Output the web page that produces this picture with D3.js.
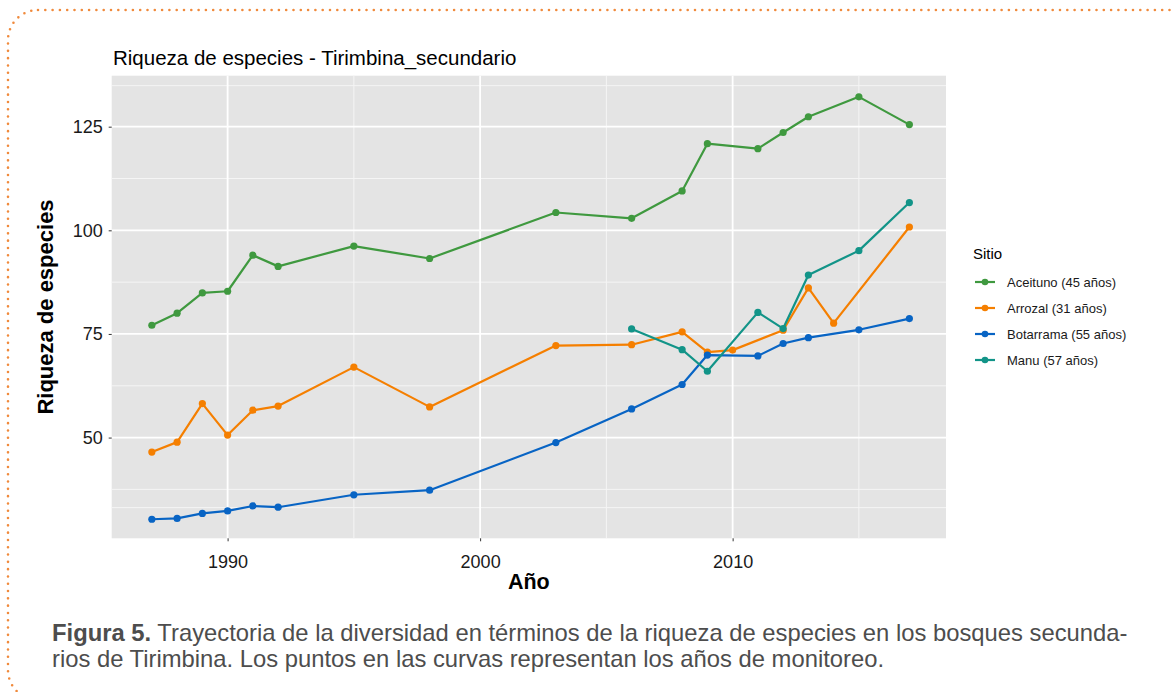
<!DOCTYPE html>
<html><head><meta charset="utf-8">
<script src="https://cdn.jsdelivr.net/npm/d3@7"></script>
<style>body{margin:0;background:#fff;} svg{display:block;font-family:"Liberation Sans",Arial,sans-serif;}</style>
</head><body>
<svg id="c" width="1172" height="692"></svg>
<script>
const sites = ["Aceituno (45 años)","Arrozal (31 años)","Botarrama (55 años)","Manu (57 años)"];
const colors = ["#3f993f","#f57f00","#0864c4","#129488"];
const aceitunoYears = [1987,1988,1989,1990,1991,1992,1995,1998,2003,2006,2008,2009,2011,2012,2013,2015,2017];
const aceitunoVals  = [77.1,80.0,84.9,85.3,94.0,91.3,96.2,93.2,104.3,102.9,109.5,120.9,119.7,123.6,127.4,132.2,125.5];
const arrozalYears = [1987,1988,1989,1990,1991,1992,1995,1998,2003,2006,2008,2009,2010,2012,2013,2014,2017];
const arrozalVals  = [46.5,48.9,58.2,50.6,56.6,57.6,67.0,57.4,72.2,72.4,75.5,70.6,71.1,75.9,86.1,77.6,100.8];
const botarramaYears = [1987,1988,1989,1990,1991,1992,1995,1998,2003,2006,2008,2009,2011,2012,2013,2015,2017];
const botarramaVals  = [30.3,30.5,31.7,32.3,33.5,33.2,36.2,37.3,48.8,56.9,62.8,69.9,69.7,72.7,74.1,76.0,78.7];
const manuYears = [2006,2008,2009,2011,2012,2013,2015,2017];
const manuVals  = [76.2,71.2,66.0,80.2,76.3,89.2,95.1,106.7];
const yMajor = [50,75,100,125];
const yMinor = [33.1,37.5,62.5,87.5,112.5,134.9];
const xMajor = [1990,2000,2010];
const xMinor = [1995,2005,2015];

const series = [
  {name:sites[0], color:colors[0], years:aceitunoYears, vals:aceitunoVals},
  {name:sites[1], color:colors[1], years:arrozalYears, vals:arrozalVals},
  {name:sites[2], color:colors[2], years:botarramaYears, vals:botarramaVals},
  {name:sites[3], color:colors[3], years:manuYears, vals:manuVals}
];

const svg = d3.select("#c");
// dotted border
svg.append("rect").attr("x",8).attr("y",10).attr("width",1230).attr("height",690).attr("rx",30)
  .attr("fill","none").attr("stroke","#f08a3c").attr("stroke-width",2.6)
  .attr("stroke-dasharray","0 7.3").attr("stroke-linecap","round");

const L=111.7, R=946, T=75.7, B=538.3;
const x = d3.scaleLinear().domain([1985.41,2018.45]).range([L,R]);
const y = d3.scaleLinear().domain([25.7,137.3]).range([B,T]);

svg.append("rect").attr("x",L).attr("y",T).attr("width",R-L).attr("height",B-T).attr("fill","#e4e4e4");
const g = svg.append("g");
g.selectAll(".ymin").data(yMinor).join("line").attr("x1",L).attr("x2",R)
  .attr("y1",d=>y(d)).attr("y2",d=>y(d)).attr("stroke","#f5f5f5").attr("stroke-width",1);
g.selectAll(".xmin").data(xMinor).join("line").attr("y1",T).attr("y2",B)
  .attr("x1",d=>x(d)).attr("x2",d=>x(d)).attr("stroke","#f5f5f5").attr("stroke-width",1);
g.selectAll(".ymaj").data(yMajor).join("line").attr("x1",L).attr("x2",R)
  .attr("y1",d=>y(d)).attr("y2",d=>y(d)).attr("stroke","#fff").attr("stroke-width",1.8);
g.selectAll(".xmaj").data(xMajor).join("line").attr("y1",T).attr("y2",B)
  .attr("x1",d=>x(d)).attr("x2",d=>x(d)).attr("stroke","#fff").attr("stroke-width",1.8);

// axes
const ax = svg.append("g").attr("transform",`translate(0,${B})`)
  .call(d3.axisBottom(x).tickValues(xMajor).tickFormat(d3.format("d")).tickSize(3).tickPadding(10));
const ay = svg.append("g").attr("transform",`translate(${L},0)`)
  .call(d3.axisLeft(y).tickValues(yMajor).tickSize(3).tickPadding(6));
[ax,ay].forEach(a=>{
  a.select(".domain").remove();
  a.selectAll(".tick line").attr("stroke","#333");
  a.selectAll(".tick text").attr("fill","#1a1a1a").style("font-size","18px")
   .style("font-family","'Liberation Sans',Arial,sans-serif");
});
ax.selectAll(".tick text").attr("dy","0.95em");

const line = d3.line().x(d=>x(d[0])).y(d=>y(d[1]));
series.forEach(s=>{
  const pts = s.years.map((yr,i)=>[yr,s.vals[i]]);
  svg.append("path").datum(pts).attr("d",line).attr("fill","none")
    .attr("stroke",s.color).attr("stroke-width",2.2).attr("stroke-linejoin","round");
  svg.append("g").selectAll("circle").data(pts).join("circle")
    .attr("cx",d=>x(d[0])).attr("cy",d=>y(d[1])).attr("r",3.6).attr("fill",s.color);
});

// titles
svg.append("text").attr("x",113).attr("y",65).text("Riqueza de especies - Tirimbina_secundario")
  .style("font-size","20.5px").attr("fill","#000");
svg.append("text").attr("x",(L+R)/2).attr("y",589).attr("text-anchor","middle").text("Año")
  .style("font-size","21.5px").style("font-weight","bold").attr("fill","#000");
svg.append("text").attr("transform",`translate(53,${(T+B)/2}) rotate(-90)`).attr("text-anchor","middle")
  .text("Riqueza de especies").style("font-size","22px").style("font-weight","bold").attr("fill","#000");

// legend
svg.append("text").attr("x",973).attr("y",259).text("Sitio").style("font-size","15px").attr("fill","#000");
const lg = svg.append("g").selectAll("g").data(series).join("g")
  .attr("transform",(d,i)=>`translate(975,${282+i*26})`);
lg.append("line").attr("x1",0).attr("x2",20).attr("stroke",d=>d.color).attr("stroke-width",2.2);
lg.append("circle").attr("cx",10).attr("r",3.3).attr("fill",d=>d.color);
lg.append("text").attr("x",32).attr("dy","0.35em").text(d=>d.name).style("font-size","13px").attr("fill","#1a1a1a");

// caption
const cap = svg.append("g").style("font-size","23.8px").attr("fill","#4d4d4d");
const t1 = cap.append("text").attr("x",52).attr("y",641);
t1.append("tspan").text("Figura 5.").style("font-weight","bold");
t1.append("tspan").text(" Trayectoria de la diversidad en términos de la riqueza de especies en los bosques secunda-");
cap.append("text").attr("x",52).attr("y",667).text("rios de Tirimbina. Los puntos en las curvas representan los años de monitoreo.");
</script>
</body></html>
